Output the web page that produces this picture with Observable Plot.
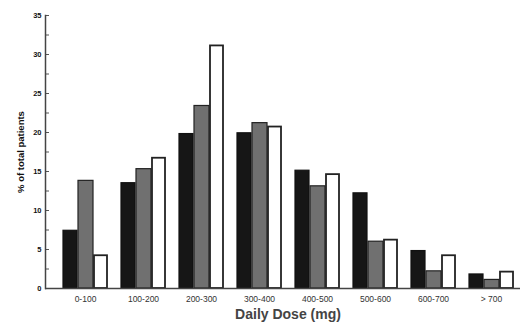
<!DOCTYPE html>
<html>
<head>
<meta charset="utf-8">
<script src="https://cdn.jsdelivr.net/npm/d3@7"></script>
<script src="https://cdn.jsdelivr.net/npm/@observablehq/plot@0.6"></script>
<style>
  html, body { margin: 0; padding: 0; background: #fff; }
  #chart svg { display: block; }
</style>
</head>
<body>
<div id="chart"></div>
<script>
const groups = ["0-100", "100-200", "200-300", "300-400", "400-500", "500-600", "600-700", "> 700"];
const seriesBlack = [7.4, 13.5, 19.8, 19.9, 15.1, 12.2, 4.8, 1.8];
const seriesGray  = [13.8, 15.3, 23.4, 21.2, 13.1, 6.0, 2.2, 1.1];
const seriesWhite = [4.2, 16.7, 31.1, 20.7, 14.6, 6.2, 4.2, 2.1];
const yLabelTicks = [0, 5, 10, 15, 20, 25, 30, 35];
const yMinorTicks = [0, 2.5, 5, 7.5, 10, 12.5, 15, 17.5, 20, 22.5, 25, 27.5, 30, 32.5, 35];
const yTitle = "% of total patients";
const xTitle = "Daily Dose (mg)";

const rows = (vals) => groups.map((g, i) => ({group: g, value: vals[i]}));

const chart = Plot.plot({
  width: 520,
  height: 322,
  marginLeft: 45,
  marginRight: 0,
  marginTop: 15,
  marginBottom: 34,
  style: {fontFamily: "'Liberation Sans', Arial, sans-serif", background: "#fff"},
  x: {domain: groups, range: [59, 517], paddingInner: 0.237, paddingOuter: 0},
  y: {domain: [0, 35]},
  marks: [
    Plot.barY(rows(seriesBlack), {x: "group", y: "value", fill: "#161616", stroke: "#111", strokeWidth: 1.2, insetRight: 30}),
    Plot.barY(rows(seriesGray), {x: "group", y: "value", fill: "#707070", stroke: "#222", strokeWidth: 1.2, insetLeft: 15, insetRight: 14}),
    Plot.barY(rows(seriesWhite), {x: "group", y: "value", fill: "#fff", stroke: "#222", strokeWidth: 1.8, insetLeft: 31}),
    Plot.tickY(yMinorTicks, {y: d => d, insetRight: 471, stroke: "#555", strokeWidth: 1}),
    Plot.axisY({ticks: yLabelTicks, tickSize: 0, tickPadding: 4, label: null, fontSize: 7.5, fontWeight: "bold", fill: "#111"}),
    Plot.axisX({tickSize: 0, tickPadding: 7, label: null, fontSize: 8.5, fill: "#333"}),
    Plot.frame({anchor: "left", stroke: "#444", strokeWidth: 1.5}),
    Plot.ruleY([0], {stroke: "#444", strokeWidth: 1.5}),
    Plot.text([yTitle], {frameAnchor: "left", textAnchor: "middle", lineAnchor: "middle", dx: -25, rotate: -90, fontSize: 9.5, fontWeight: "bold", fill: "#111"}),
    Plot.text([xTitle], {frameAnchor: "bottom", textAnchor: "middle", lineAnchor: "middle", dx: 5, dy: 26, fontSize: 14, fontWeight: "bold", fill: "#444"})
  ]
});
document.getElementById("chart").appendChild(chart);
</script>
</body>
</html>
